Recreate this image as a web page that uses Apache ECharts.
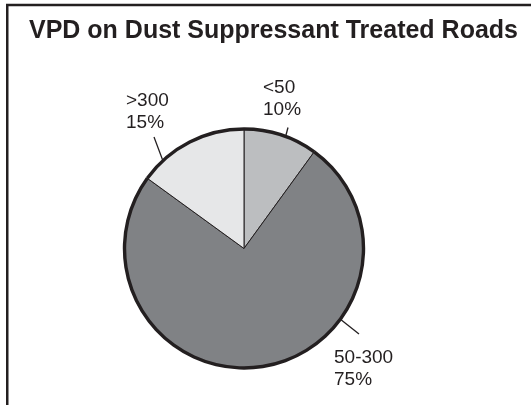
<!DOCTYPE html>
<html>
<head>
<meta charset="utf-8">
<style>
  html, body { margin: 0; padding: 0; background: #fff; }
  #chart { width: 531px; height: 405px; }
</style>
<script src="https://cdn.jsdelivr.net/npm/echarts@6/dist/echarts.min.js"></script>
</head>
<body>
<div id="chart"></div>
<script>
// VPD class shares on dust-suppressant treated roads
const categories = ['<50', '50-300', '>300'];
const percents = [10, 75, 15];
const sliceColors = ['#bcbec0', '#808285', '#e6e7e8'];

const INK = '#231f20';
const FONT = '"Liberation Sans", Arial, sans-serif';
const CENTER = [244, 248.5];
const RADIUS = 119.5;

// Hand-placed label boxes and leader lines, as offsets from the pie centre
const labelPlacement = [
  { box: [19, -172], line: [[44, -121], [40, -106]] },
  { box: [90, 98.5], line: [[115, 85.5], [91, 66.5]] },
  { box: [-118, -159], line: [[-90, -111.5], [-81, -87.5]] }
];

const chart = echarts.init(document.getElementById('chart'), null, { renderer: 'canvas' });

chart.setOption({
  animation: false,
  backgroundColor: '#ffffff',
  title: {
    text: 'VPD on Dust Suppressant Treated Roads',
    left: 29,
    top: 19,
    padding: 0,
    textStyle: { fontFamily: FONT, fontSize: 25, fontWeight: 'bold', color: INK }
  },
  graphic: [{
    type: 'rect',
    silent: true,
    shape: { x: 7.25, y: 5, width: 600, height: 500 },
    style: { fill: null, stroke: INK, lineWidth: 2.5 }
  }],
  series: [
    {
      type: 'pie',
      center: CENTER,
      radius: RADIUS,
      startAngle: 90,
      clockwise: true,
      silent: true,
      data: categories.map((name, i) => ({
        name: name,
        value: percents[i],
        itemStyle: { color: sliceColors[i] }
      })),
      itemStyle: { borderColor: INK, borderWidth: 1 },
      label: {
        show: true,
        formatter: p => p.name + '\n' + p.value + '%',
        fontFamily: FONT,
        fontSize: 19,
        lineHeight: 22,
        color: INK
      },
      labelLine: {
        show: true,
        length: 10,
        length2: 0,
        lineStyle: { color: INK, width: 1.3 }
      },
      labelLayout: function (params) {
        const p = labelPlacement[params.dataIndex];
        const cx = CENTER[0], cy = CENTER[1];
        return {
          x: cx + p.box[0],
          y: cy + p.box[1],
          align: 'left',
          verticalAlign: 'top',
          labelLinePoints: p.line.map(q => [cx + q[0], cy + q[1]])
        };
      }
    },
    {
      // heavy outer rim around the pie
      type: 'pie',
      center: CENTER,
      radius: [RADIUS - 1.7, RADIUS + 1.7],
      startAngle: 90,
      silent: true,
      data: categories.map((name, i) => ({ name: name, value: percents[i] })),
      itemStyle: { color: INK, borderWidth: 0 },
      label: { show: false },
      labelLine: { show: false }
    }
  ]
});
</script>
</body>
</html>
